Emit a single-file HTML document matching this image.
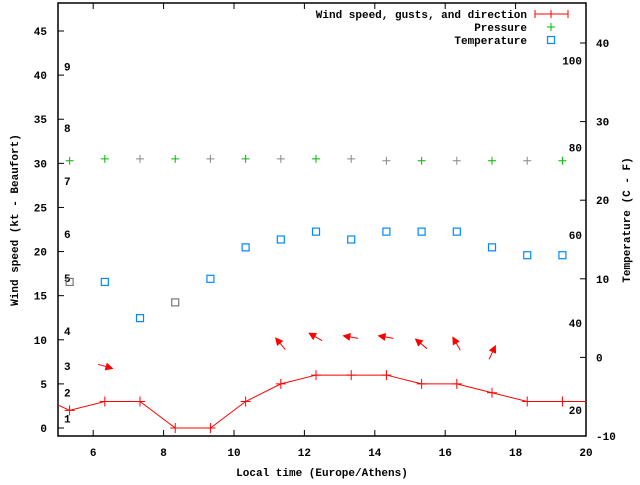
<!DOCTYPE html>
<html><head><meta charset="utf-8"><style>
html,body{margin:0;padding:0;background:#fff;}
svg text{font-family:"Liberation Mono","DejaVu Sans Mono",monospace;font-size:11px;font-weight:bold;fill:#000;}
</style></head><body>
<svg id="c" width="640" height="480" xmlns="http://www.w3.org/2000/svg"></svg>
<script>
const hours=[5.33,6.33,7.33,8.33,9.33,10.33,11.33,12.33,13.33,14.33,15.33,16.33,17.33,18.33,19.33];
const wind=[2,3,3,0,0,3,5,6,6,6,5,5,4,3,3];
const pressure=[30.3,30.5,30.5,30.5,30.5,30.5,30.5,30.5,30.5,30.3,30.3,30.3,30.3,30.3,30.3];
const pressureGray=[0,0,1,0,1,0,1,0,1,1,0,1,0,1,0];
const temp=[9.6,9.6,5,7,10,14,15,16,15,16,16,16,14,13,13];
const tempGray=[1,0,0,1,0,0,0,0,0,0,0,0,0,0,0];
const arrowHours=[6.33,11.33,12.33,13.33,14.33,15.33,16.33,17.33];
const arrowWind=[7,9.5,10.3,10.3,10.3,9.5,9.5,8.5];
const arrowAngle=[-16,130,150,170,170,140,120,65];
const xTicks=[6,8,10,12,14,16,18,20];
const yTicks=[0,5,10,15,20,25,30,35,40,45];
const y2Ticks=[-10,0,10,20,30,40];
const beaufort=[[1,1.1],[2,4],[3,7],[4,11],[5,17],[6,22],[7,28],[8,34],[9,41]];
const fahr=[[20,-6.7],[40,4.4],[60,15.6],[80,26.7],[100,37.8]];
const L=58,R=586,T=3,B=436;
const X=h=>L+(h-5)*(R-L)/15;
const Y=v=>428-v*8.822;
const Y2=v=>436-(v+10)*7.86;
const svg=document.getElementById('c');const NS='http://www.w3.org/2000/svg';
function el(t,a,p){const e=document.createElementNS(NS,t);for(const k in a)e.setAttribute(k,a[k]);(p||svg).appendChild(e);return e;}
function tx(x,y,s,anchor,name,rot){const e=el('text',{x:x,y:y,'text-anchor':anchor||'start'});e.textContent=s;if(rot)e.setAttribute('transform',rot);return e;}
let f=el('rect',{x:L,y:T,width:R-L,height:B-T,fill:'none',stroke:'#000','stroke-width':1.5});

xTicks.forEach(v=>{const x=X(v);let t=el('path',{d:`M${x} ${B}v-6M${x} ${T}v6`,stroke:'#000'});tx(x,456,String(v),'middle','x-tick-label');});
yTicks.forEach(v=>{const y=Y(v);let t=el('path',{d:`M${L} ${y}h6`,stroke:'#000'});tx(47,y+4,String(v),'end','y-tick-label');});
y2Ticks.forEach(v=>{const y=Y2(v);let t=el('path',{d:`M${R} ${y}h-6`,stroke:'#000'});tx(596,y+4,String(v),'start','y2-tick-label');});
beaufort.forEach(b=>tx(64,Y(b[1])+4,String(b[0]),'start','beaufort-label'));
fahr.forEach(b=>tx(582,Y2(b[1])+4,String(b[0]),'end','fahrenheit-label'));
tx(322,476,'Local time (Europe/Athens)','middle','x-axis-title');
tx(0,0,'Wind speed (kt - Beaufort)','middle','y-axis-title','translate(18,220) rotate(-90)');
tx(0,0,'Temperature (C - F)','middle','y2-axis-title','translate(630,220) rotate(-90)');
let pts=[[L,Y(2.6)]].concat(hours.map((h,i)=>[X(h),Y(wind[i])])).concat([[R,Y(3)]]);
let wl=el('polyline',{points:pts.map(p=>p.join(',')).join(' '),fill:'none',stroke:'#f00','stroke-width':1});

hours.forEach((h,i)=>{let m=el('path',{d:`M${X(h)-5} ${Y(wind[i])}h10M${X(h)} ${Y(wind[i])-5}v10`,stroke:'#f00'});});
hours.forEach((h,i)=>{let m=el('path',{d:`M${X(h)-4} ${Y(pressure[i])}h8M${X(h)} ${Y(pressure[i])-4}v8`,stroke:pressureGray[i]?'#888':'#0b0'});});
hours.forEach((h,i)=>{let m=el('rect',{x:X(h)-3.5,y:Y2(temp[i])-3.5,width:7,height:7,fill:'none',stroke:tempGray[i]?'#777':'#08f','stroke-width':1.2});});
arrowHours.forEach((h,i)=>{const cx=X(h),cy=Y(arrowWind[i]);const a=arrowAngle[i]*Math.PI/180;const dx=Math.cos(a),dy=-Math.sin(a);const tx0=cx-dx*7,ty0=cy-dy*7,hx=cx+dx*7,hy=cy+dy*7;
 const g=el('g',{});
 el('line',{x1:tx0,y1:ty0,x2:hx,y2:hy,stroke:'#f00'},g);
 const px=-dy,py=dx;el('polygon',{points:`${hx+dx*2},${hy+dy*2} ${hx-dx*6+px*4},${hy-dy*6+py*4} ${hx-dx*6-px*4},${hy-dy*6-py*4}`,fill:'#f00'},g);});
tx(527,18,'Wind speed, gusts, and direction','end','legend-wind-label');
let lw=el('path',{d:'M535 14h33M535 10v8M568 10v8M551 10v8',stroke:'#f00'});
tx(527,31,'Pressure','end','legend-pressure-label');
let lp=el('path',{d:'M547 27h8M551 23v8',stroke:'#0b0'});
tx(527,44,'Temperature','end','legend-temperature-label');
let lt=el('rect',{x:547.5,y:36.5,width:7,height:7,fill:'none',stroke:'#08f','stroke-width':1.2});
</script>
</body></html>
